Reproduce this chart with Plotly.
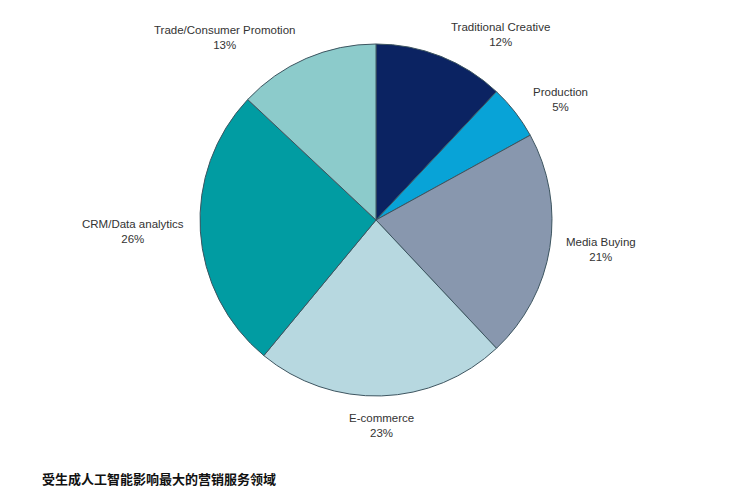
import math
import plotly.graph_objects as go

categories = ["Traditional Creative", "Production", "Media Buying", "E-commerce",
              "CRM/Data analytics", "Trade/Consumer Promotion"]
shares = [12, 5, 21, 23, 26, 13]
colors = ["#0b2362", "#08a3d7", "#8897ae", "#b7d8e0", "#019ca2", "#8ccbcb"]
title_text = "受生成人工智能影响最大的营销服务领域"

W, H = 753, 500
OFF = 8  # page body margin
cx, cy, R = 376 - OFF, 220 - OFF, 176  # pixel geometry of the pie

fig = go.Figure(go.Pie(
    labels=categories, values=shares, sort=False, direction="clockwise", rotation=0,
    marker=dict(colors=colors, line=dict(color="#3d5560", width=1)),
    textinfo="none", hoverinfo="label+percent", showlegend=False,
    domain=dict(x=[(cx - R) / W, (cx + R) / W], y=[(H - cy - R) / H, (H - cy + R) / H]),
))

total = sum(shares)
cum = 0
annotations = []
for lab, v in zip(categories, shares):
    mid = (cum + v / 2) / total * 2 * math.pi
    cum += v
    s, c = math.sin(mid), math.cos(mid)
    r = R + 14 + 10 * max(c, 0)
    px = cx + r * s
    py = cy - r * c
    xa = "left" if s > 0.3 else ("right" if s < -0.3 else "center")
    ya = "top" if c < -0.8 else "middle"
    annotations.append(dict(
        x=px / W, y=1 - py / H, xref="paper", yref="paper", showarrow=False,
        text=f"{lab}<br>{round(v / total * 100)}%", xanchor=xa, yanchor=ya,
        font=dict(family="Liberation Sans, Arial", size=11.5, color="#333333"),
        align="center",
    ))

annotations.append(dict(
    x=(40 - OFF) / W, y=1 - (478 - OFF) / H, xref="paper", yref="paper", showarrow=False,
    text=f"<b>{title_text}</b>", xanchor="left", yanchor="middle",
    font=dict(family="Noto Sans CJK SC", size=13, color="#111111"),
))

fig.update_layout(
    width=W, height=H, margin=dict(l=0, r=0, t=0, b=0),
    paper_bgcolor="white", plot_bgcolor="white",
    annotations=annotations,
)
fig.write_html("out.html")
